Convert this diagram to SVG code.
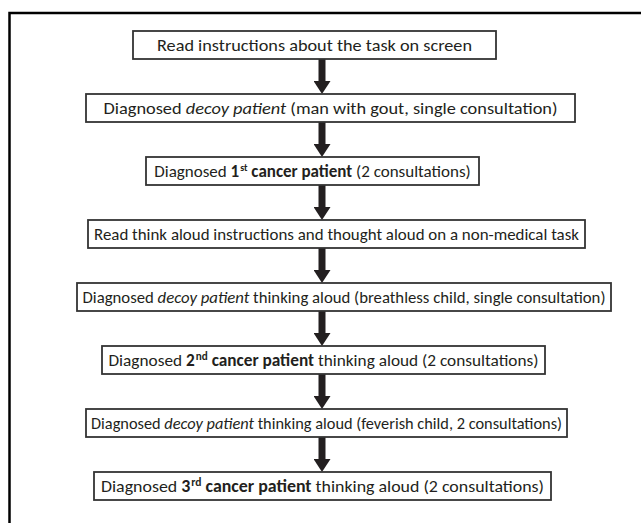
<svg xmlns="http://www.w3.org/2000/svg" width="641" height="523" viewBox="0 0 641 523">
<style>
.box{fill:#fff;stroke:#333;stroke-width:1.8}
.t{font-family:Carlito,Lato,"Liberation Sans",sans-serif;font-size:17px;fill:#231f20;text-anchor:middle}
.b{font-weight:bold}
.i{font-style:italic}
.arr{stroke:#231f20;stroke-width:7;fill:none;marker-end:url(#ah)}
.frame{fill:none;stroke:#000;stroke-width:2.5}
</style>
<defs>
<marker id="ah" markerUnits="userSpaceOnUse" markerWidth="13" markerHeight="17" refX="3" refY="8.5" orient="auto" viewBox="0 0 13 17">
<path d="M0,0 L13,8.5 L0,17 Z" fill="#231f20"/>
</marker>
</defs>
<rect width="641" height="523" fill="#fff"/>
<path class="frame" d="M9.5,523 V13 H641"/>
<g id="connectors">
<line class="arr" x1="322" y1="59" x2="322" y2="84"/>
<line class="arr" x1="322" y1="122" x2="322" y2="147"/>
<line class="arr" x1="322" y1="185" x2="322" y2="210"/>
<line class="arr" x1="322" y1="248" x2="322" y2="273"/>
<line class="arr" x1="322" y1="311" x2="322" y2="336"/>
<line class="arr" x1="322" y1="374" x2="322" y2="399"/>
<line class="arr" x1="322" y1="437" x2="322" y2="462"/>
</g>
<g id="n1">
<rect class="box" x="133" y="31" width="363" height="28"/>
<text class="t" x="314.5" y="51" textLength="315" lengthAdjust="spacingAndGlyphs">Read instructions about the task on screen</text>
</g>
<g id="n2">
<rect class="box" x="86" y="94" width="489" height="28"/>
<text class="t" x="330.5" y="114" textLength="454" lengthAdjust="spacingAndGlyphs">Diagnosed <tspan class="i">decoy patient</tspan> (man with gout, single consultation)</text>
</g>
<g id="n3">
<rect class="box" x="146" y="157" width="333" height="28"/>
<text class="t" x="312.5" y="177" font-size="15">Diagnosed <tspan class="b">1</tspan><tspan class="b" font-size="10" dx="1" dy="-6">st</tspan><tspan class="b" dy="6"> cancer patient</tspan> (2 consultations)</text>
</g>
<g id="n4">
<rect class="box" x="88" y="220" width="497" height="28"/>
<text class="t" x="336.5" y="240" textLength="485" lengthAdjust="spacingAndGlyphs">Read think aloud instructions and thought aloud on a non-medical task</text>
</g>
<g id="n5">
<rect class="box" x="77" y="283" width="534" height="28"/>
<text class="t" x="344" y="303" textLength="523" lengthAdjust="spacingAndGlyphs">Diagnosed <tspan class="i">decoy patient</tspan> thinking aloud (breathless child, single consultation)</text>
</g>
<g id="n6">
<rect class="box" x="102" y="346" width="443" height="28"/>
<text class="t" x="323.5" y="366" textLength="430" lengthAdjust="spacingAndGlyphs">Diagnosed <tspan class="b">2</tspan><tspan class="b" font-size="11" dx="1" dy="-6">nd</tspan><tspan class="b" dy="6"> cancer patient</tspan> thinking aloud (2 consultations)</text>
</g>
<g id="n7">
<rect class="box" x="86" y="409" width="481" height="28"/>
<text class="t" x="326.5" y="429" textLength="471" lengthAdjust="spacingAndGlyphs">Diagnosed <tspan class="i">decoy patient</tspan> thinking aloud (feverish child, 2 consultations)</text>
</g>
<g id="n8">
<rect class="box" x="94" y="472" width="457" height="28"/>
<text class="t" x="322.5" y="492" textLength="443" lengthAdjust="spacingAndGlyphs">Diagnosed <tspan class="b">3</tspan><tspan class="b" font-size="11" dx="1" dy="-6">rd</tspan><tspan class="b" dy="6"> cancer patient</tspan> thinking aloud (2 consultations)</text>
</g>
</svg>
